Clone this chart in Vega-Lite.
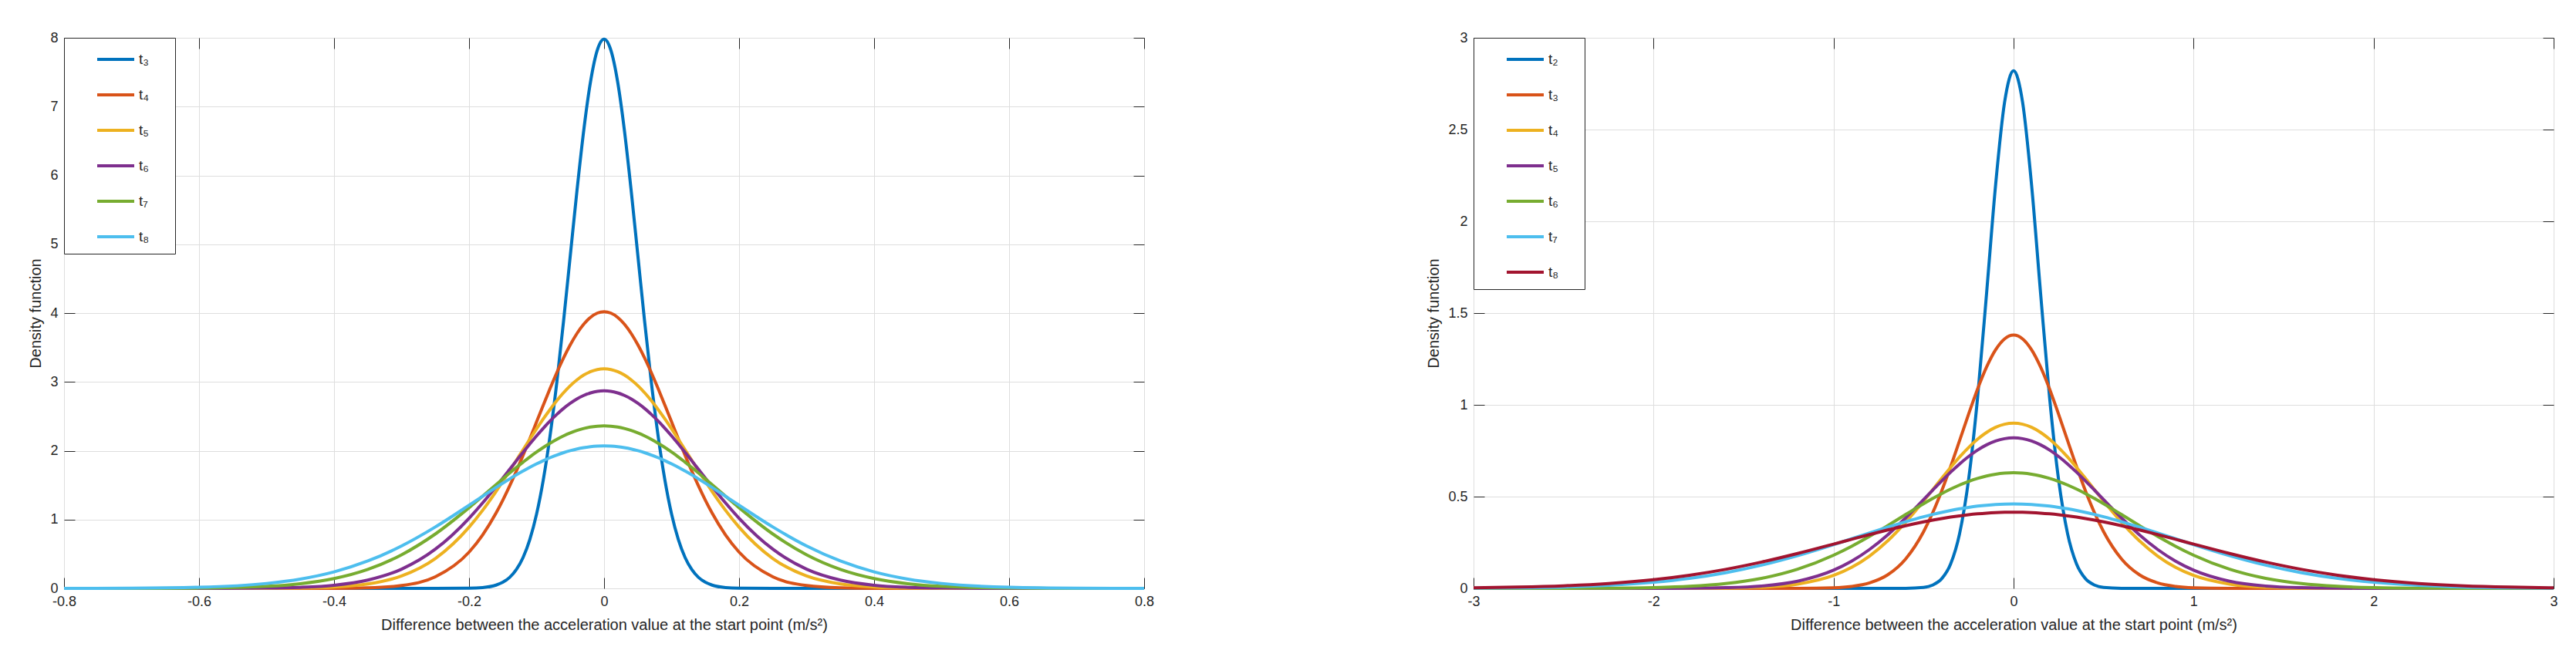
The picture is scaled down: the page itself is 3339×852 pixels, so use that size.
{
  "$schema": "https://vega.github.io/schema/vega-lite/v6.json",
  "background": "white",
  "padding": {"left": 36, "top": 39, "right": 0, "bottom": 0},
  "autosize": {"type": "pad"},
  "spacing": 427,
  "bounds": "flush",
  "config": {
    "font": "Liberation Sans",
    "view": {"stroke": "#262626", "strokeWidth": 1},
    "axis": {
      "domain": false, "grid": false,
      "tickColor": "#262626", "tickSize": -14, "tickWidth": 1,
      "labelColor": "#262626", "labelFont": "Liberation Sans", "labelFontSize": 18, "labelPadding": 22, "labelFlush": false,
      "titleColor": "#262626", "titleFont": "Liberation Sans", "titleFontSize": 20, "titleFontWeight": "normal", "titlePadding": 8,
      "gridColor": "#dedede", "gridWidth": 1, "gridOpacity": 1
    },
    "axisX": {"titlePadding": 11},
    "legend": {
      "orient": "top-left", "offset": 0, "padding": 2,
      "strokeColor": "#262626", "strokeWidth": 1, "fillColor": "white",
      "symbolType": "M-1,0L1,0M0,-0.5M0,0.5", "symbolSize": 2304, "symbolStrokeWidth": 4, "symbolOffset": 39,
      "labelFontSize": 19, "labelFont": "Liberation Sans", "labelColor": "#262626", "labelOffset": 4,
      "rowPadding": 0
    }
  },
  "resolve": {"scale": {"color": "independent"}, "legend": {"color": "independent"}},
  "datasets": {
    "L": [
      {"x": -0.8, "t₃": 0, "t₄": 0, "t₅": 0, "t₆": 0, "t₇": 0, "t₈": 0.0004},
      {"x": -0.7, "t₃": 0, "t₄": 0, "t₅": 0, "t₆": 0, "t₇": 0.0004, "t₈": 0.0028},
      {"x": -0.6, "t₃": 0, "t₄": 0, "t₅": 0, "t₆": 0.0003, "t₇": 0.0043, "t₈": 0.0162},
      {"x": -0.5, "t₃": 0, "t₄": 0, "t₅": 0.0011, "t₆": 0.0044, "t₇": 0.0297, "t₈": 0.0715},
      {"x": -0.45, "t₃": 0, "t₄": 0, "t₅": 0.0049, "t₆": 0.0152, "t₇": 0.0681, "t₈": 0.1355},
      {"x": -0.4, "t₃": 0, "t₄": 0.0012, "t₅": 0.0192, "t₆": 0.0457, "t₇": 0.143, "t₈": 0.24},
      {"x": -0.35, "t₃": 0, "t₄": 0.008, "t₅": 0.0637, "t₆": 0.1206, "t₇": 0.276, "t₈": 0.398},
      {"x": -0.3, "t₃": 0, "t₄": 0.0415, "t₅": 0.18, "t₆": 0.279, "t₇": 0.488, "t₈": 0.616},
      {"x": -0.25, "t₃": 0, "t₄": 0.168, "t₅": 0.433, "t₆": 0.569, "t₇": 0.79, "t₈": 0.892},
      {"x": -0.2, "t₃": 0.0027, "t₄": 0.527, "t₅": 0.889, "t₆": 1.019, "t₇": 1.172, "t₈": 1.208},
      {"x": -0.18, "t₃": 0.0122, "t₄": 0.775, "t₅": 1.133, "t₆": 1.241, "t₇": 1.338, "t₈": 1.338},
      {"x": -0.16, "t₃": 0.0477, "t₄": 1.095, "t₅": 1.408, "t₆": 1.48, "t₇": 1.508, "t₈": 1.466},
      {"x": -0.15, "t₃": 0.0886, "t₄": 1.282, "t₅": 1.555, "t₆": 1.603, "t₇": 1.592, "t₈": 1.529},
      {"x": -0.14, "t₃": 0.158, "t₄": 1.485, "t₅": 1.706, "t₆": 1.728, "t₇": 1.675, "t₈": 1.59},
      {"x": -0.13, "t₃": 0.272, "t₄": 1.703, "t₅": 1.859, "t₆": 1.853, "t₇": 1.756, "t₈": 1.649},
      {"x": -0.12, "t₃": 0.448, "t₄": 1.934, "t₅": 2.014, "t₆": 1.977, "t₇": 1.834, "t₈": 1.705},
      {"x": -0.11, "t₃": 0.71, "t₄": 2.174, "t₅": 2.167, "t₆": 2.098, "t₇": 1.91, "t₈": 1.759},
      {"x": -0.1, "t₃": 1.08, "t₄": 2.419, "t₅": 2.318, "t₆": 2.216, "t₇": 1.981, "t₈": 1.809},
      {"x": -0.09, "t₃": 1.579, "t₄": 2.664, "t₅": 2.463, "t₆": 2.327, "t₇": 2.048, "t₈": 1.856},
      {"x": -0.08, "t₃": 2.218, "t₄": 2.904, "t₅": 2.6, "t₆": 2.432, "t₇": 2.11, "t₈": 1.899},
      {"x": -0.07, "t₃": 2.995, "t₄": 3.134, "t₅": 2.728, "t₆": 2.528, "t₇": 2.166, "t₈": 1.938},
      {"x": -0.06, "t₃": 3.885, "t₄": 3.348, "t₅": 2.843, "t₆": 2.615, "t₇": 2.216, "t₈": 1.972},
      {"x": -0.05, "t₃": 4.84, "t₄": 3.54, "t₅": 2.945, "t₆": 2.69, "t₇": 2.259, "t₈": 2.001},
      {"x": -0.04, "t₃": 5.794, "t₄": 3.706, "t₅": 3.031, "t₆": 2.754, "t₇": 2.295, "t₈": 2.026},
      {"x": -0.03, "t₃": 6.665, "t₄": 3.84, "t₅": 3.1, "t₆": 2.804, "t₇": 2.323, "t₈": 2.045},
      {"x": -0.02, "t₃": 7.366, "t₄": 3.939, "t₅": 3.149, "t₆": 2.84, "t₇": 2.344, "t₈": 2.059},
      {"x": -0.01, "t₃": 7.822, "t₄": 4.0, "t₅": 3.18, "t₆": 2.863, "t₇": 2.356, "t₈": 2.067},
      {"x": 0, "t₃": 7.98, "t₄": 4.02, "t₅": 3.19, "t₆": 2.87, "t₇": 2.36, "t₈": 2.07},
      {"x": 0.01, "t₃": 7.822, "t₄": 4.0, "t₅": 3.18, "t₆": 2.863, "t₇": 2.356, "t₈": 2.067},
      {"x": 0.02, "t₃": 7.366, "t₄": 3.939, "t₅": 3.149, "t₆": 2.84, "t₇": 2.344, "t₈": 2.059},
      {"x": 0.03, "t₃": 6.665, "t₄": 3.84, "t₅": 3.1, "t₆": 2.804, "t₇": 2.323, "t₈": 2.045},
      {"x": 0.04, "t₃": 5.794, "t₄": 3.706, "t₅": 3.031, "t₆": 2.754, "t₇": 2.295, "t₈": 2.026},
      {"x": 0.05, "t₃": 4.84, "t₄": 3.54, "t₅": 2.945, "t₆": 2.69, "t₇": 2.259, "t₈": 2.001},
      {"x": 0.06, "t₃": 3.885, "t₄": 3.348, "t₅": 2.843, "t₆": 2.615, "t₇": 2.216, "t₈": 1.972},
      {"x": 0.07, "t₃": 2.995, "t₄": 3.134, "t₅": 2.728, "t₆": 2.528, "t₇": 2.166, "t₈": 1.938},
      {"x": 0.08, "t₃": 2.218, "t₄": 2.904, "t₅": 2.6, "t₆": 2.432, "t₇": 2.11, "t₈": 1.899},
      {"x": 0.09, "t₃": 1.579, "t₄": 2.664, "t₅": 2.463, "t₆": 2.327, "t₇": 2.048, "t₈": 1.856},
      {"x": 0.1, "t₃": 1.08, "t₄": 2.419, "t₅": 2.318, "t₆": 2.216, "t₇": 1.981, "t₈": 1.809},
      {"x": 0.11, "t₃": 0.71, "t₄": 2.174, "t₅": 2.167, "t₆": 2.098, "t₇": 1.91, "t₈": 1.759},
      {"x": 0.12, "t₃": 0.448, "t₄": 1.934, "t₅": 2.014, "t₆": 1.977, "t₇": 1.834, "t₈": 1.705},
      {"x": 0.13, "t₃": 0.272, "t₄": 1.703, "t₅": 1.859, "t₆": 1.853, "t₇": 1.756, "t₈": 1.649},
      {"x": 0.14, "t₃": 0.158, "t₄": 1.485, "t₅": 1.706, "t₆": 1.728, "t₇": 1.675, "t₈": 1.59},
      {"x": 0.15, "t₃": 0.0886, "t₄": 1.282, "t₅": 1.555, "t₆": 1.603, "t₇": 1.592, "t₈": 1.529},
      {"x": 0.16, "t₃": 0.0477, "t₄": 1.095, "t₅": 1.408, "t₆": 1.48, "t₇": 1.508, "t₈": 1.466},
      {"x": 0.18, "t₃": 0.0122, "t₄": 0.775, "t₅": 1.133, "t₆": 1.241, "t₇": 1.338, "t₈": 1.338},
      {"x": 0.2, "t₃": 0.0027, "t₄": 0.527, "t₅": 0.889, "t₆": 1.019, "t₇": 1.172, "t₈": 1.208},
      {"x": 0.25, "t₃": 0, "t₄": 0.168, "t₅": 0.433, "t₆": 0.569, "t₇": 0.79, "t₈": 0.892},
      {"x": 0.3, "t₃": 0, "t₄": 0.0415, "t₅": 0.18, "t₆": 0.279, "t₇": 0.488, "t₈": 0.616},
      {"x": 0.35, "t₃": 0, "t₄": 0.008, "t₅": 0.0637, "t₆": 0.1206, "t₇": 0.276, "t₈": 0.398},
      {"x": 0.4, "t₃": 0, "t₄": 0.0012, "t₅": 0.0192, "t₆": 0.0457, "t₇": 0.143, "t₈": 0.24},
      {"x": 0.45, "t₃": 0, "t₄": 0, "t₅": 0.0049, "t₆": 0.0152, "t₇": 0.0681, "t₈": 0.1355},
      {"x": 0.5, "t₃": 0, "t₄": 0, "t₅": 0.0011, "t₆": 0.0044, "t₇": 0.0297, "t₈": 0.0715},
      {"x": 0.6, "t₃": 0, "t₄": 0, "t₅": 0, "t₆": 0.0003, "t₇": 0.0043, "t₈": 0.0162},
      {"x": 0.7, "t₃": 0, "t₄": 0, "t₅": 0, "t₆": 0, "t₇": 0.0004, "t₈": 0.0028},
      {"x": 0.8, "t₃": 0, "t₄": 0, "t₅": 0, "t₆": 0, "t₇": 0, "t₈": 0.0004}
    ],
    "R": [
      {"x": -3, "t₂": 0, "t₃": 0, "t₄": 0, "t₅": 0, "t₆": 0, "t₇": 0.0012, "t₈": 0.0031},
      {"x": -2.75, "t₂": 0, "t₃": 0, "t₄": 0, "t₅": 0, "t₆": 0, "t₇": 0.0032, "t₈": 0.0069},
      {"x": -2.5, "t₂": 0, "t₃": 0, "t₄": 0, "t₅": 0, "t₆": 0.0003, "t₇": 0.0075, "t₈": 0.014},
      {"x": -2.25, "t₂": 0, "t₃": 0, "t₄": 0, "t₅": 0, "t₆": 0.0011, "t₇": 0.0165, "t₈": 0.0266},
      {"x": -2, "t₂": 0, "t₃": 0, "t₄": 0, "t₅": 0.0002, "t₆": 0.0043, "t₇": 0.0331, "t₈": 0.0474},
      {"x": -1.8, "t₂": 0, "t₃": 0, "t₄": 0.0002, "t₅": 0.0009, "t₆": 0.0111, "t₇": 0.0546, "t₈": 0.0716},
      {"x": -1.6, "t₂": 0, "t₃": 0, "t₄": 0.0013, "t₅": 0.0037, "t₆": 0.0258, "t₇": 0.0854, "t₈": 0.1035},
      {"x": -1.4, "t₂": 0, "t₃": 0, "t₄": 0.0061, "t₅": 0.013, "t₆": 0.0546, "t₇": 0.1268, "t₈": 0.1433},
      {"x": -1.2, "t₂": 0, "t₃": 0.0002, "t₄": 0.023, "t₅": 0.0391, "t₆": 0.1045, "t₇": 0.1785, "t₈": 0.19},
      {"x": -1, "t₂": 0, "t₃": 0.0035, "t₄": 0.0704, "t₅": 0.0992, "t₆": 0.1809, "t₇": 0.2383, "t₈": 0.2412},
      {"x": -0.9, "t₂": 0, "t₃": 0.0108, "t₄": 0.1143, "t₅": 0.1481, "t₆": 0.2293, "t₇": 0.2701, "t₈": 0.2674},
      {"x": -0.8, "t₂": 0, "t₃": 0.0299, "t₄": 0.1762, "t₅": 0.2122, "t₆": 0.2835, "t₇": 0.302, "t₈": 0.2933},
      {"x": -0.7, "t₂": 0, "t₃": 0.0734, "t₄": 0.2582, "t₅": 0.2912, "t₆": 0.3418, "t₇": 0.3333, "t₈": 0.3181},
      {"x": -0.6, "t₂": 0.0004, "t₃": 0.16, "t₄": 0.3597, "t₅": 0.3833, "t₆": 0.402, "t₇": 0.363, "t₈": 0.3414},
      {"x": -0.5, "t₂": 0.0055, "t₃": 0.309, "t₄": 0.476, "t₅": 0.4836, "t₆": 0.4612, "t₇": 0.3903, "t₈": 0.3624},
      {"x": -0.45, "t₂": 0.018, "t₃": 0.4106, "t₄": 0.5372, "t₅": 0.5346, "t₆": 0.4893, "t₇": 0.4027, "t₈": 0.3718},
      {"x": -0.4, "t₂": 0.0519, "t₃": 0.5295, "t₄": 0.5987, "t₅": 0.5848, "t₆": 0.516, "t₇": 0.4141, "t₈": 0.3805},
      {"x": -0.35, "t₂": 0.1323, "t₃": 0.6628, "t₄": 0.6587, "t₅": 0.633, "t₆": 0.5407, "t₇": 0.4244, "t₈": 0.3883},
      {"x": -0.3, "t₂": 0.298, "t₃": 0.805, "t₄": 0.7156, "t₅": 0.678, "t₆": 0.5631, "t₇": 0.4336, "t₈": 0.3952},
      {"x": -0.25, "t₂": 0.592, "t₃": 0.949, "t₄": 0.7675, "t₅": 0.7186, "t₆": 0.5827, "t₇": 0.4415, "t₈": 0.4012},
      {"x": -0.2, "t₂": 1.039, "t₃": 1.0861, "t₄": 0.8128, "t₅": 0.7536, "t₆": 0.5993, "t₇": 0.4481, "t₈": 0.4061},
      {"x": -0.15, "t₂": 1.608, "t₃": 1.2061, "t₄": 0.8499, "t₅": 0.7819, "t₆": 0.6126, "t₇": 0.4532, "t₈": 0.41},
      {"x": -0.1, "t₂": 2.197, "t₃": 1.2998, "t₄": 0.8774, "t₅": 0.8029, "t₆": 0.6222, "t₇": 0.457, "t₈": 0.4128},
      {"x": -0.05, "t₂": 2.649, "t₃": 1.3595, "t₄": 0.8943, "t₅": 0.8157, "t₆": 0.628, "t₇": 0.4592, "t₈": 0.4144},
      {"x": 0, "t₂": 2.82, "t₃": 1.38, "t₄": 0.9, "t₅": 0.82, "t₆": 0.63, "t₇": 0.46, "t₈": 0.415},
      {"x": 0.05, "t₂": 2.649, "t₃": 1.3595, "t₄": 0.8943, "t₅": 0.8157, "t₆": 0.628, "t₇": 0.4592, "t₈": 0.4144},
      {"x": 0.1, "t₂": 2.197, "t₃": 1.2998, "t₄": 0.8774, "t₅": 0.8029, "t₆": 0.6222, "t₇": 0.457, "t₈": 0.4128},
      {"x": 0.15, "t₂": 1.608, "t₃": 1.2061, "t₄": 0.8499, "t₅": 0.7819, "t₆": 0.6126, "t₇": 0.4532, "t₈": 0.41},
      {"x": 0.2, "t₂": 1.039, "t₃": 1.0861, "t₄": 0.8128, "t₅": 0.7536, "t₆": 0.5993, "t₇": 0.4481, "t₈": 0.4061},
      {"x": 0.25, "t₂": 0.592, "t₃": 0.949, "t₄": 0.7675, "t₅": 0.7186, "t₆": 0.5827, "t₇": 0.4415, "t₈": 0.4012},
      {"x": 0.3, "t₂": 0.298, "t₃": 0.805, "t₄": 0.7156, "t₅": 0.678, "t₆": 0.5631, "t₇": 0.4336, "t₈": 0.3952},
      {"x": 0.35, "t₂": 0.1323, "t₃": 0.6628, "t₄": 0.6587, "t₅": 0.633, "t₆": 0.5407, "t₇": 0.4244, "t₈": 0.3883},
      {"x": 0.4, "t₂": 0.0519, "t₃": 0.5295, "t₄": 0.5987, "t₅": 0.5848, "t₆": 0.516, "t₇": 0.4141, "t₈": 0.3805},
      {"x": 0.45, "t₂": 0.018, "t₃": 0.4106, "t₄": 0.5372, "t₅": 0.5346, "t₆": 0.4893, "t₇": 0.4027, "t₈": 0.3718},
      {"x": 0.5, "t₂": 0.0055, "t₃": 0.309, "t₄": 0.476, "t₅": 0.4836, "t₆": 0.4612, "t₇": 0.3903, "t₈": 0.3624},
      {"x": 0.6, "t₂": 0.0004, "t₃": 0.16, "t₄": 0.3597, "t₅": 0.3833, "t₆": 0.402, "t₇": 0.363, "t₈": 0.3414},
      {"x": 0.7, "t₂": 0, "t₃": 0.0734, "t₄": 0.2582, "t₅": 0.2912, "t₆": 0.3418, "t₇": 0.3333, "t₈": 0.3181},
      {"x": 0.8, "t₂": 0, "t₃": 0.0299, "t₄": 0.1762, "t₅": 0.2122, "t₆": 0.2835, "t₇": 0.302, "t₈": 0.2933},
      {"x": 0.9, "t₂": 0, "t₃": 0.0108, "t₄": 0.1143, "t₅": 0.1481, "t₆": 0.2293, "t₇": 0.2701, "t₈": 0.2674},
      {"x": 1, "t₂": 0, "t₃": 0.0035, "t₄": 0.0704, "t₅": 0.0992, "t₆": 0.1809, "t₇": 0.2383, "t₈": 0.2412},
      {"x": 1.2, "t₂": 0, "t₃": 0.0002, "t₄": 0.023, "t₅": 0.0391, "t₆": 0.1045, "t₇": 0.1785, "t₈": 0.19},
      {"x": 1.4, "t₂": 0, "t₃": 0, "t₄": 0.0061, "t₅": 0.013, "t₆": 0.0546, "t₇": 0.1268, "t₈": 0.1433},
      {"x": 1.6, "t₂": 0, "t₃": 0, "t₄": 0.0013, "t₅": 0.0037, "t₆": 0.0258, "t₇": 0.0854, "t₈": 0.1035},
      {"x": 1.8, "t₂": 0, "t₃": 0, "t₄": 0.0002, "t₅": 0.0009, "t₆": 0.0111, "t₇": 0.0546, "t₈": 0.0716},
      {"x": 2, "t₂": 0, "t₃": 0, "t₄": 0, "t₅": 0.0002, "t₆": 0.0043, "t₇": 0.0331, "t₈": 0.0474},
      {"x": 2.25, "t₂": 0, "t₃": 0, "t₄": 0, "t₅": 0, "t₆": 0.0011, "t₇": 0.0165, "t₈": 0.0266},
      {"x": 2.5, "t₂": 0, "t₃": 0, "t₄": 0, "t₅": 0, "t₆": 0.0003, "t₇": 0.0075, "t₈": 0.014},
      {"x": 2.75, "t₂": 0, "t₃": 0, "t₄": 0, "t₅": 0, "t₆": 0, "t₇": 0.0032, "t₈": 0.0069},
      {"x": 3, "t₂": 0, "t₃": 0, "t₄": 0, "t₅": 0, "t₆": 0, "t₇": 0.0012, "t₈": 0.0031}
    ]
  },
  "hconcat": [
    {
      "width": 1400, "height": 714,
      "data": {"name": "L"},
      "transform": [{"fold": ["t₃", "t₄", "t₅", "t₆", "t₇", "t₈"], "as": ["series", "y"]}],
      "layer": [
        {
          "mark": {"type": "line", "strokeWidth": 4, "interpolate": "monotone"},
          "encoding": {
            "x": {"field": "x", "type": "quantitative",
              "scale": {"domain": [-0.8, 0.8], "nice": false, "zero": false},
              "axis": {"orient": "bottom", "grid": true, "format": "~g", "values": [-0.8, -0.6, -0.4, -0.2, 0, 0.2, 0.4, 0.6, 0.8],
                "labelExpr": "replace(datum.label, '−', '-')",
                "title": "Difference between the acceleration value at the start point (m/s²)"}},
            "y": {"field": "y", "type": "quantitative",
              "scale": {"domain": [0, 8], "nice": false},
              "axis": {"orient": "left", "grid": true, "format": "~g", "values": [0, 1, 2, 3, 4, 5, 6, 7, 8], "title": "Density function"}},
            "color": {"field": "series", "type": "nominal",
              "scale": {"domain": ["t₃", "t₄", "t₅", "t₆", "t₇", "t₈"], "range": ["#0072BD", "#D95319", "#EDB120", "#7E2F8E", "#77AC30", "#4DBEEE"]},
              "legend": {"title": null, "labelExpr": "datum.label + '\u00a0\u00a0\u00a0\u00a0\u00a0\u00a0\u200b'"}}
          }
        },
        {
          "mark": {"type": "point", "opacity": 0},
          "encoding": {
            "x": {"field": "x", "type": "quantitative", "axis": {"orient": "top", "grid": false, "labels": false, "title": null, "values": [-0.8, -0.6, -0.4, -0.2, 0, 0.2, 0.4, 0.6, 0.8]}},
            "y": {"field": "y", "type": "quantitative", "axis": {"orient": "right", "grid": false, "labels": false, "title": null, "values": [0, 1, 2, 3, 4, 5, 6, 7, 8]}}
          }
        }
      ],
      "resolve": {"axis": {"x": "independent", "y": "independent"}}
    },
    {
      "width": 1400, "height": 714,
      "data": {"name": "R"},
      "transform": [{"fold": ["t₂", "t₃", "t₄", "t₅", "t₆", "t₇", "t₈"], "as": ["series", "y"]}],
      "layer": [
        {
          "mark": {"type": "line", "strokeWidth": 4, "interpolate": "monotone"},
          "encoding": {
            "x": {"field": "x", "type": "quantitative",
              "scale": {"domain": [-3, 3], "nice": false, "zero": false},
              "axis": {"orient": "bottom", "grid": true, "format": "~g", "values": [-3, -2, -1, 0, 1, 2, 3],
                "labelExpr": "replace(datum.label, '−', '-')",
                "title": "Difference between the acceleration value at the start point (m/s²)"}},
            "y": {"field": "y", "type": "quantitative",
              "scale": {"domain": [0, 3], "nice": false},
              "axis": {"orient": "left", "grid": true, "format": "~g", "values": [0, 0.5, 1, 1.5, 2, 2.5, 3], "title": "Density function"}},
            "color": {"field": "series", "type": "nominal",
              "scale": {"domain": ["t₂", "t₃", "t₄", "t₅", "t₆", "t₇", "t₈"], "range": ["#0072BD", "#D95319", "#EDB120", "#7E2F8E", "#77AC30", "#4DBEEE", "#A2142F"]},
              "legend": {"title": null, "labelExpr": "datum.label + '\u00a0\u00a0\u00a0\u00a0\u00a0\u00a0\u200b'"}}
          }
        },
        {
          "mark": {"type": "point", "opacity": 0},
          "encoding": {
            "x": {"field": "x", "type": "quantitative", "axis": {"orient": "top", "grid": false, "labels": false, "title": null, "values": [-3, -2, -1, 0, 1, 2, 3]}},
            "y": {"field": "y", "type": "quantitative", "axis": {"orient": "right", "grid": false, "labels": false, "title": null, "values": [0, 0.5, 1, 1.5, 2, 2.5, 3]}}
          }
        }
      ],
      "resolve": {"axis": {"x": "independent", "y": "independent"}}
    }
  ]
}
